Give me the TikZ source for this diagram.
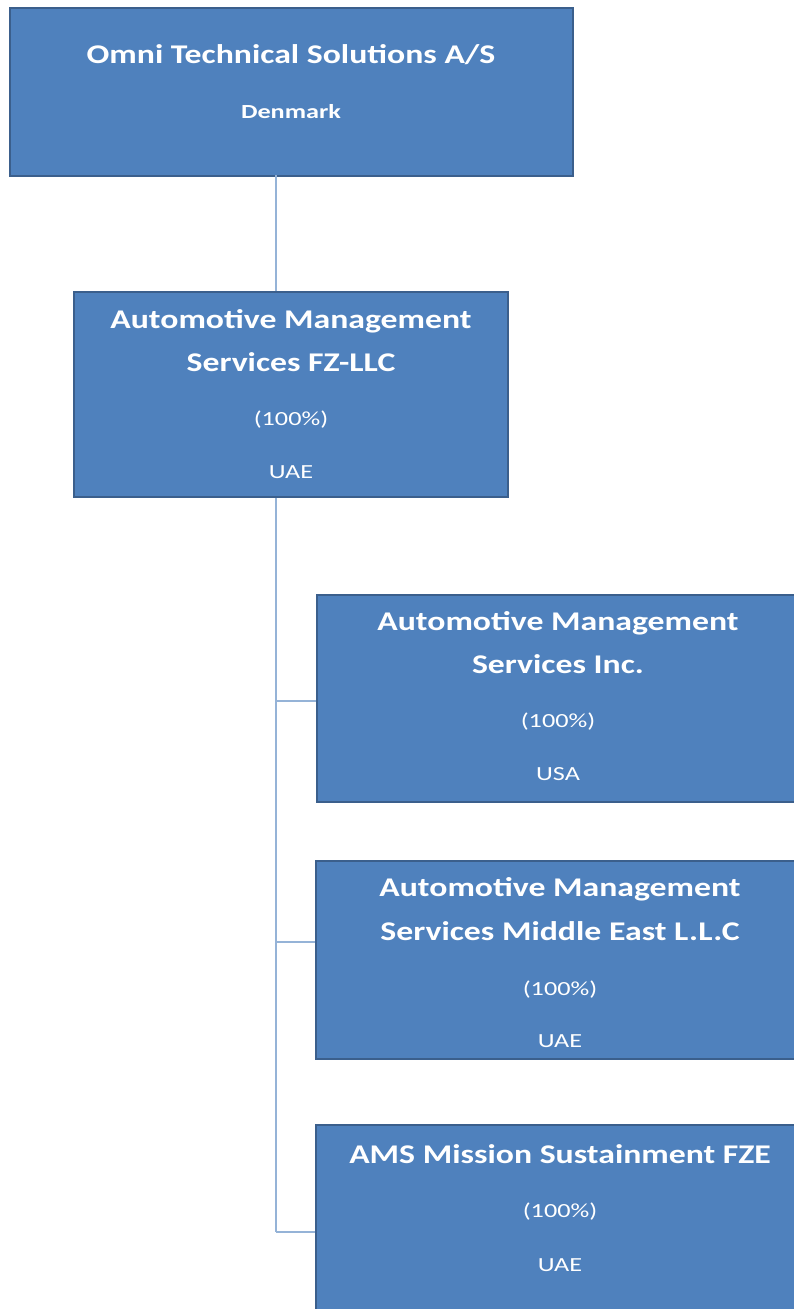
\documentclass[tikz,border=0pt]{standalone}
\usepackage{fontspec}
\setmainfont{Carlito}
\newfontfamily\ttlfont[FakeStretch=1.25]{Carlito}
\newfontfamily\subfont[FakeStretch=1.31]{Carlito}
\definecolor{boxfill}{HTML}{4F81BD}
\definecolor{boxedge}{HTML}{3B5F8C}
\definecolor{linkc}{HTML}{95B3D7}
\begin{document}
\begin{tikzpicture}[x=1pt,y=-1pt,
  entity/.style={draw=boxedge,line width=2pt,fill=boxfill,inner sep=0pt,anchor=north west},
  ttl/.style={text=white,font=\ttlfont\fontsize{27}{32}\selectfont\bfseries,align=center},
  sub/.style={text=white,font=\subfont\fontsize{20}{23}\selectfont},
  subb/.style={text=white,font=\subfont\fontsize{20}{23}\selectfont\bfseries},
  link/.style={draw=linkc,line width=2pt}]
\useasboundingbox (0,0) rectangle (794,1309);
% boxes
\node[entity,minimum width=563pt,minimum height=168pt] (b1) at (9,7) {};
\node[entity,minimum width=434pt,minimum height=205pt] (b2) at (73,291) {};
\node[entity,minimum width=490pt,minimum height=207pt] (b3) at (316,594) {};
\node[entity,minimum width=490pt,minimum height=198pt] (b4) at (315,860) {};
\node[entity,minimum width=490pt,minimum height=200pt] (b5) at (315,1124) {};
% connectors
\coordinate (j0) at (276,175);
\coordinate (j1) at (276,291);
\coordinate (j2) at (276,498);
\coordinate (k3) at (276,701);
\coordinate (k4) at (276,942);
\coordinate (k5) at (276,1232);
\draw[link] (j0) -- (j1);
\draw[link] (j2) -- (k5);
\draw[link] (k3) -- (k3 -| b3.west);
\draw[link] (k4) -- (k4 -| b4.west);
\draw[link] (k5) -- (k5 -| b5.west);
% texts box 1
\node[ttl] (t1) at (291,55) {Omni Technical Solutions A/S};
\node[subb] (s1) at (291,112) {Denmark};
% box 2
\node[ttl] (t2a) at (291,321) {Automotive Management};
\node[ttl] (t2b) at (291,362) {Services FZ-LLC};
\node[sub] (p2) at (291,420) {(100\%)};
\node[sub] (c2) at (291,472) {UAE};
% box 3
\node[ttl] (t3a) at (558,623) {Automotive Management};
\node[ttl] (t3b) at (558,664) {Services Inc.};
\node[sub] (p3) at (558,722) {(100\%)};
\node[sub] (c3) at (558,774) {USA};
% box 4
\node[ttl] (t4a) at (560,889) {Automotive Management};
\node[ttl] (t4b) at (560,931) {Services Middle East L.L.C};
\node[sub] (p4) at (560,990) {(100\%)};
\node[sub] (c4) at (560,1041) {UAE};
% box 5
\node[ttl] (t5) at (560,1154) {AMS Mission Sustainment FZE};
\node[sub] (p5) at (560,1212) {(100\%)};
\node[sub] (c5) at (560,1265) {UAE};
\end{tikzpicture}
\end{document}
